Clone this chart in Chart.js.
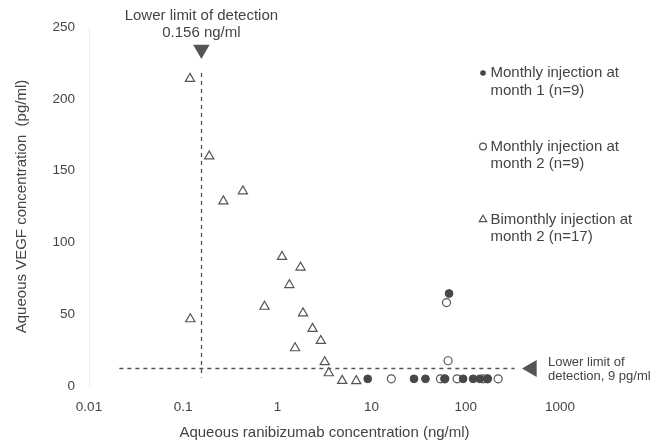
<!DOCTYPE html>
<html><head><meta charset="utf-8">
<script src="https://cdn.jsdelivr.net/npm/chart.js@4.4.1/dist/chart.umd.min.js"></script>
<style>html,body{margin:0;padding:0;background:#fff}canvas{display:block}</style>
</head><body>
<canvas id="c" width="667" height="445"></canvas>
<script>
// ---- data ----
const monthly1X = [9.1, 28.2, 37.3, 59.8, 93.6, 119.6, 141, 170, 66.4];
const monthly1Y = [5, 5, 5, 5, 5, 5, 5, 5, 64.4];
const monthly2X = [16.2, 53.8, 80.8, 152.8, 220.6, 62.4, 64.8, 59.8, 170];
const monthly2Y = [5, 5, 5, 5, 5, 58.1, 17.6, 5, 5];
const bimonthlyX = [0.118, 0.189, 0.267, 0.43, 1.12, 1.76, 1.34, 0.73, 0.119, 1.87, 2.36, 2.89, 1.54, 3.18, 3.51, 4.87, 6.87];
const bimonthlyY = [214, 160, 128.7, 135.7, 90, 82.6, 70.4, 55.3, 46.6, 50.7, 39.9, 31.5, 26.4, 16.7, 9, 3.7, 3.5];

const xTicks = [0.01, 0.1, 1, 10, 100, 1000];
const yTicks = [0, 50, 100, 150, 200, 250];

// detection limits (reference lines and arrow markers)
const lodRanibizumab = 0.156;          // ng/ml
const lodVLineSpan = [6, 218];         // VEGF range covered by the vertical dashed line
const lodVegf = 12.2;                  // drawn level of the horizontal dashed line
const lodHLineSpan = [0.021, 330];     // ranibizumab range covered by the horizontal line
const arrowDownPt = [0.156, 234.4];
const arrowLeftPt = [502, 12.2];

const seriesLabels = ['Monthly injection at month 1 (n=9)', 'Monthly injection at month 2 (n=9)', 'Bimonthly injection at month 2 (n=17)'];
const legendLines = [['Monthly injection at', 'month 1 (n=9)'], ['Monthly injection at', 'month 2 (n=9)'], ['Bimonthly injection at', 'month 2 (n=17)']];

const FONT = "'Liberation Sans', Arial, sans-serif";
const INK = '#444';
const MARK = '#555';

const pts = (xs, ys) => xs.map((v, i) => ({x: v, y: ys[i]}));

const annotations = {
  id: 'annotations',
  beforeDatasetsDraw(chart) {
    const {ctx, scales: {x, y}} = chart;
    ctx.save();
    ctx.strokeStyle = MARK; ctx.lineWidth = 1.3; ctx.setLineDash([4, 4]);
    ctx.beginPath();
    const vx = Math.round(x.getPixelForValue(lodRanibizumab)) + 0.5;
    ctx.moveTo(vx, y.getPixelForValue(lodVLineSpan[1]));
    ctx.lineTo(vx, y.getPixelForValue(lodVLineSpan[0]));
    const hy = Math.round(y.getPixelForValue(lodVegf)) + 0.5;
    ctx.moveTo(x.getPixelForValue(lodHLineSpan[0]), hy);
    ctx.lineTo(x.getPixelForValue(lodHLineSpan[1]), hy);
    ctx.stroke();
    ctx.restore();
  },
  afterDraw(chart) {
    const {ctx, scales: {x, y}} = chart;
    ctx.save();
    ctx.fillStyle = INK;
    ctx.textBaseline = 'middle';
    // top label
    ctx.font = '15px ' + FONT;
    ctx.textAlign = 'center';
    const ax = x.getPixelForValue(arrowDownPt[0]);
    ctx.fillText('Lower limit of detection', ax, 16);
    ctx.fillText('0.156 ng/ml', ax, 33);
    // right label
    ctx.textAlign = 'left';
    ctx.font = '13px ' + FONT;
    ctx.fillText('Lower limit of', 548, 362);
    ctx.fillText('detection, 9 pg/ml', 548, 376);
    // legend
    ctx.font = '15px ' + FONT;
    const rows = [73, 146.5, 219.5];
    rows.forEach((ry, i) => {
      ctx.fillStyle = INK;
      ctx.fillText(legendLines[i][0], 490.5, ry);
      ctx.fillText(legendLines[i][1], 490.5, ry + 17.5);
      ctx.lineWidth = 1.2; ctx.strokeStyle = MARK; ctx.fillStyle = '#444';
      const mx = 483;
      ctx.beginPath();
      if (i === 0) { ctx.arc(mx, ry, 2.8, 0, Math.PI * 2); ctx.fill(); }
      else if (i === 1) { ctx.arc(mx, ry, 3.4, 0, Math.PI * 2); ctx.stroke(); }
      else {
        const r = 4.3;
        ctx.moveTo(mx, ry - r); ctx.lineTo(mx + r * 0.866, ry + r / 2); ctx.lineTo(mx - r * 0.866, ry + r / 2); ctx.closePath(); ctx.stroke();
      }
    });
    ctx.restore();
  }
};

new Chart(document.getElementById('c'), {
  type: 'scatter',
  data: {
    datasets: [
      {label: seriesLabels[0], data: pts(monthly1X, monthly1Y), pointStyle: 'circle', pointRadius: 3.9, pointBackgroundColor: '#484848', pointBorderColor: '#484848', pointBorderWidth: 1},
      {label: seriesLabels[1], data: pts(monthly2X, monthly2Y), pointStyle: 'circle', pointRadius: 4, pointBackgroundColor: '#fff', pointBorderColor: MARK, pointBorderWidth: 1.2},
      {label: seriesLabels[2], data: pts(bimonthlyX, bimonthlyY), pointStyle: 'triangle', pointRadius: 5.3, pointBackgroundColor: '#fff', pointBorderColor: MARK, pointBorderWidth: 1.2},
      {label: 'LOD ranibizumab', data: [{x: arrowDownPt[0], y: arrowDownPt[1]}], pointStyle: 'triangle', rotation: 180, pointRadius: 9.5, pointBackgroundColor: MARK, pointBorderColor: MARK, pointBorderWidth: 0},
      {label: 'LOD VEGF', data: [{x: arrowLeftPt[0], y: arrowLeftPt[1]}], pointStyle: 'triangle', rotation: 270, pointRadius: 9.8, pointBackgroundColor: MARK, pointBorderColor: MARK, pointBorderWidth: 0}
    ]
  },
  options: {
    responsive: false,
    devicePixelRatio: 1,
    animation: false,
    clip: false,
    layout: {padding: {top: 27, right: 107, bottom: 0, left: 0}},
    plugins: {legend: {display: false}, tooltip: {enabled: false}},
    scales: {
      x: {
        type: 'logarithmic', min: xTicks[0], max: xTicks[xTicks.length - 1],
        grid: {display: false, drawTicks: false},
        border: {display: false},
        afterBuildTicks: s => { s.ticks = xTicks.map(v => ({value: v})); },
        afterFit: s => { s.height = 59; },
        ticks: {padding: 13, color: INK, font: {family: FONT, size: 13.5}, maxRotation: 0, autoSkip: false, callback: v => String(v)},
        title: {display: true, text: 'Aqueous ranibizumab concentration (ng/ml)', color: INK, font: {family: FONT, size: 15}, padding: {top: 0, bottom: 3}}
      },
      y: {
        min: yTicks[0], max: yTicks[yTicks.length - 1],
        grid: {display: false, drawTicks: false},
        border: {display: true, color: '#f0f0f0'},
        afterBuildTicks: s => { s.ticks = yTicks.map(v => ({value: v})); },
        afterFit: s => { s.width = 89; },
        ticks: {padding: 14, color: INK, font: {family: FONT, size: 13.5}},
        title: {display: true, text: 'Aqueous VEGF concentration  (pg/ml)', color: INK, font: {family: FONT, size: 15}, padding: {top: 13, bottom: 0}}
      }
    }
  },
  plugins: [annotations]
});
</script>
</body></html>
